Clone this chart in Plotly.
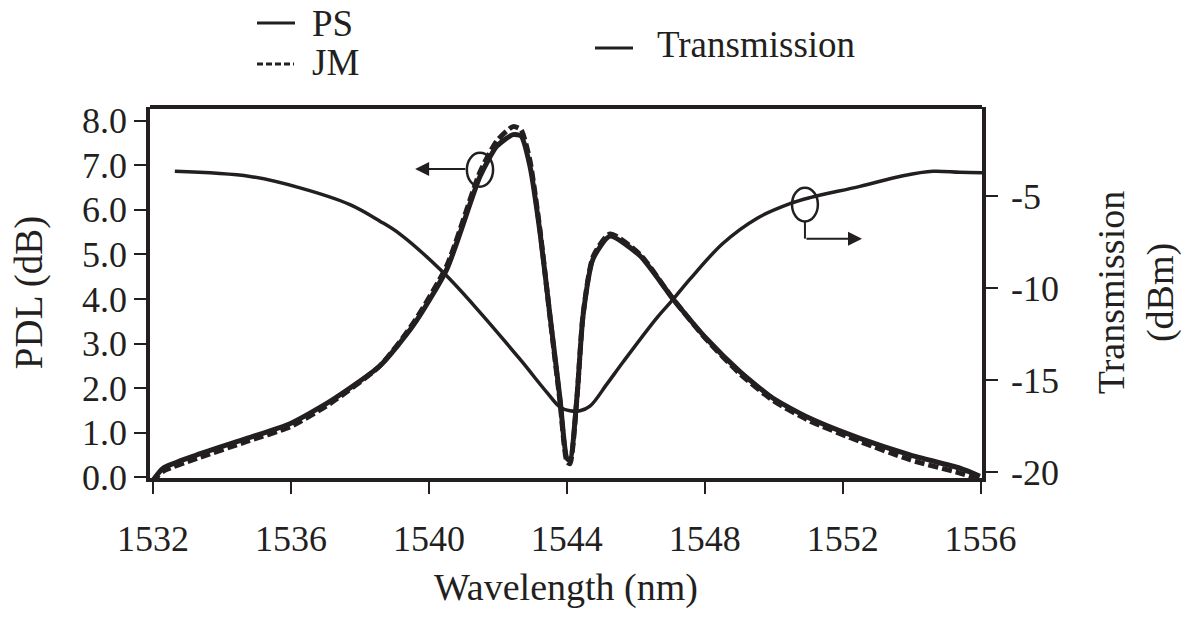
import plotly.graph_objects as go

# ---- data ----
wl_pdl = [1531.97, 1532.29, 1533.27, 1534.72, 1535.97, 1537.13, 1538.58, 1539.54, 1540.52,
          1541.48, 1541.97, 1542.44, 1542.67, 1542.93, 1543.22, 1543.51, 1543.80, 1544.00,
          1544.09, 1544.29, 1544.47, 1544.76, 1545.25, 1546.12, 1547.08, 1548.06, 1549.02,
          1549.98, 1551.05, 1552.50, 1553.95, 1555.40, 1555.98]
pdl_ps = [-0.10, 0.20, 0.50, 0.87, 1.20, 1.70, 2.50, 3.40, 4.67,
          6.75, 7.43, 7.69, 7.66, 6.98, 5.50, 3.63, 1.77, 0.42,
          0.38, 1.77, 3.63, 4.90, 5.41, 4.97, 4.00, 3.10, 2.37,
          1.77, 1.32, 0.87, 0.50, 0.20, 0.02]
pdl_jm = [-0.12, 0.13, 0.42, 0.80, 1.13, 1.65, 2.50, 3.45, 4.75,
          6.85, 7.55, 7.87, 7.80, 7.10, 5.55, 3.60, 1.70, 0.35,
          0.30, 1.75, 3.65, 4.95, 5.46, 5.00, 4.00, 3.08, 2.32,
          1.72, 1.26, 0.80, 0.39, 0.09, -0.05]

wl_tr = [1532.63, 1534.81, 1536.26, 1537.71, 1538.58, 1539.16, 1540.41, 1541.48, 1542.64,
         1543.42, 1543.80, 1544.09, 1544.38, 1544.67, 1545.16, 1545.63, 1546.61, 1547.08,
         1547.57, 1548.53, 1549.51, 1550.47, 1551.05, 1552.50, 1553.75, 1554.62, 1555.40, 1556.04]
trans = [-3.64, -3.92, -4.54, -5.45, -6.35, -7.05, -9.13, -11.30, -13.85,
         -15.65, -16.45, -16.65, -16.65, -16.40, -15.20, -14.00, -11.60, -10.60,
         -9.50, -7.55, -6.20, -5.40, -5.07, -4.46, -3.88, -3.64, -3.70, -3.72]

x_ticks = [1532, 1536, 1540, 1544, 1548, 1552, 1556]
y_ticks = [0, 1, 2, 3, 4, 5, 6, 7, 8]
y_ticklabels = ["0.0", "1.0", "2.0", "3.0", "4.0", "5.0", "6.0", "7.0", "8.0"]
y2_ticks = [-20, -15, -10, -5]
y2_ticklabels = ["-20", "-15", "-10", "-5"]

INK = "#231f20"
FONT = "Liberation Serif"

fig = go.Figure()
fig.add_trace(go.Scatter(x=wl_pdl, y=pdl_jm, name="JM", mode="lines",
                         line=dict(color=INK, width=5, dash="10px,4px", shape="spline", smoothing=0.6)))
fig.add_trace(go.Scatter(x=wl_pdl, y=pdl_ps, name="PS", mode="lines",
                         line=dict(color=INK, width=5, shape="spline", smoothing=0.6)))
fig.add_trace(go.Scatter(x=wl_tr, y=trans, name="Transmission", mode="lines", yaxis="y2",
                         line=dict(color=INK, width=3.5, shape="spline", smoothing=1.0)))

# legend drawn as key lines + real text (paper coordinates)
def px2x(px):
    return (px - 150) / 832.0

def py2y(py):
    return (478 - py) / 371.0

legend_items = [  # (label, dash, line x0, line x1, line y, text x, text y)
    ("PS", "solid", 257, 295, 23, 310, 23),
    ("JM", "6px,3px", 257, 294, 64, 310, 62),
    ("Transmission", "solid", 595, 633, 48, 655, 45),
]

shapes = [
    dict(type="line", xref="paper", yref="paper", x0=0, x1=1, y0=1, y1=1,
         line=dict(color=INK, width=4)),
    dict(type="circle", xref="x", yref="y", x0=1541.10, x1=1541.86, y0=6.52, y1=7.28,
         line=dict(color=INK, width=2.5)),
    dict(type="circle", xref="x", yref="y2", x0=1550.53, x1=1551.28, y0=-6.37, y1=-4.53,
         line=dict(color=INK, width=2.5)),
    dict(type="line", xref="x", yref="y2", x0=1550.905, x1=1550.905, y0=-6.37, y1=-7.30,
         line=dict(color=INK, width=2)),
]
annotations = [
    dict(x=1539.60, y=6.92, xref="x", yref="y", ax=1541.10, ay=6.92, axref="x", ayref="y",
         showarrow=True, arrowhead=2, arrowsize=1.4, arrowwidth=2, arrowcolor=INK, text=""),
    dict(x=1552.56, y=-7.30, xref="x", yref="y2", ax=1550.905, ay=-7.30, axref="x", ayref="y2",
         showarrow=True, arrowhead=2, arrowsize=1.4, arrowwidth=2, arrowcolor=INK, text=""),
]
for label, dash, lx0, lx1, ly, tx, ty in legend_items:
    shapes.append(dict(type="line", xref="paper", yref="paper", x0=px2x(lx0), x1=px2x(lx1),
                       y0=py2y(ly), y1=py2y(ly), line=dict(color=INK, width=3, dash=dash)))
    annotations.append(dict(text=label, xref="paper", yref="paper", x=px2x(tx), y=py2y(ty),
                            xanchor="left", yanchor="middle", showarrow=False,
                            font=dict(size=37, family=FONT, color=INK)))

fig.update_layout(
    width=1186, height=622,
    margin=dict(l=150, r=204, t=107, b=144),
    paper_bgcolor="white", plot_bgcolor="white",
    showlegend=False,
    font=dict(family=FONT, size=36, color=INK),
    xaxis=dict(range=[1531.91, 1556.04], tickvals=x_ticks, ticks="outside", ticklen=12,
               tickwidth=2, tickcolor=INK, showline=True, linewidth=4, linecolor=INK,
               showgrid=False, zeroline=False, ticklabelstandoff=14,
               tickfont=dict(size=36),
               title=dict(text="Wavelength (nm)", font=dict(size=38), standoff=16)),
    yaxis=dict(range=[-0.02, 8.31], tickvals=y_ticks, ticktext=y_ticklabels, ticks="outside",
               ticklen=12, tickwidth=2, tickcolor=INK, showline=True, linewidth=3.5,
               linecolor=INK, showgrid=False, zeroline=False, ticklabelstandoff=0,
               tickfont=dict(size=36),
               title=dict(text="PDL (dB)", font=dict(size=39), standoff=28)),
    yaxis2=dict(range=[-20.3, -0.15], tickvals=y2_ticks, ticktext=y2_ticklabels,
                overlaying="y", side="right",
                ticks="outside", ticklen=12, tickwidth=2, tickcolor=INK, showline=True,
                linewidth=3.5, linecolor=INK, showgrid=False, zeroline=False,
                ticklabelstandoff=6, tickfont=dict(size=36),
                title=dict(text="Transmission<br>(dBm)", font=dict(size=38), standoff=40)),
    shapes=shapes,
    annotations=annotations,
)

fig.write_html("out.html")
